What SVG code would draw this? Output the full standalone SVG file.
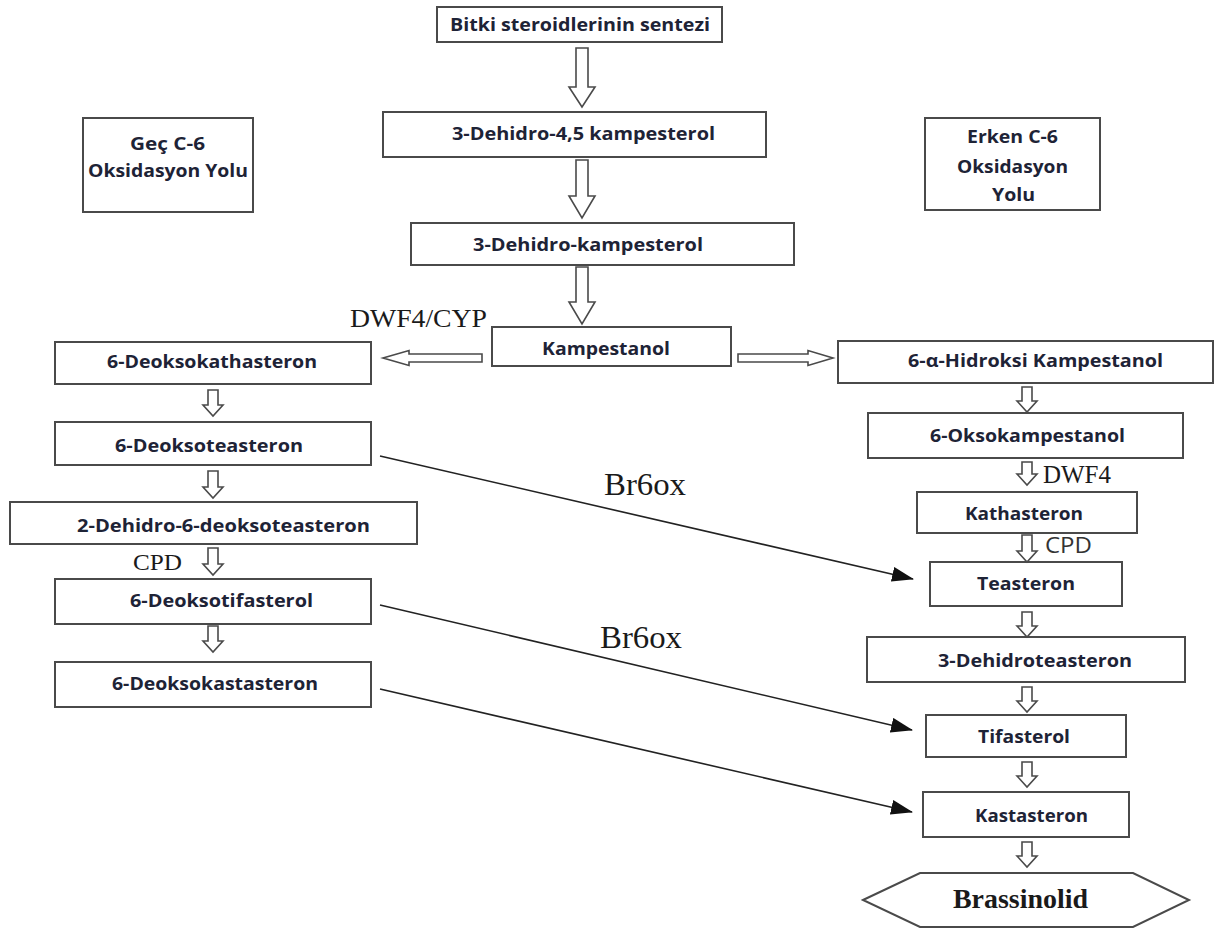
<svg xmlns="http://www.w3.org/2000/svg" width="1218" height="929" viewBox="0 0 1218 929">
<style>
.box{fill:#fff;stroke:#4a4a4a;stroke-width:2}
.t{font-family:"Open Sans","Liberation Sans",sans-serif;font-weight:700;font-size:18px;fill:#1e2336}
.blk{fill:#fff;stroke:#4a4a4a;stroke-width:1.6;stroke-linejoin:miter}
.ser{font-family:"Liberation Serif","Times New Roman",serif;fill:#1a1a1a}
.line{stroke:#222;stroke-width:1.6;fill:none}
</style>
<defs>
<marker id="ah" markerUnits="userSpaceOnUse" markerWidth="22" markerHeight="16" refX="21" refY="7.5" orient="auto">
<path d="M0,0 L22,7.5 L0,15 z" fill="#111"/>
</marker>
</defs>
<rect width="1218" height="929" fill="#fff"/>

<g id="n-bitki"><rect class="box" x="437" y="7" width="285" height="35"/><text class="t" x="450" y="31" textLength="260" lengthAdjust="spacingAndGlyphs">Bitki steroidlerinin sentezi</text></g>
<g id="n-dehidro45"><rect class="box" x="383" y="112" width="383" height="45"/><text class="t" x="452" y="140" textLength="263" lengthAdjust="spacingAndGlyphs">3-Dehidro-4,5 kampesterol</text></g>
<g id="n-dehidrokamp"><rect class="box" x="411" y="223" width="383" height="42"/><text class="t" x="473" y="251" textLength="230" lengthAdjust="spacingAndGlyphs">3-Dehidro-kampesterol</text></g>
<g id="n-kampestanol"><rect class="box" x="492" y="327" width="239" height="39"/><text class="t" x="542" y="355" textLength="128" lengthAdjust="spacingAndGlyphs">Kampestanol</text></g>
<g id="n-gec"><rect class="box" x="83" y="118" width="170" height="94"/><text class="t" x="130" y="150" textLength="75" lengthAdjust="spacingAndGlyphs">Geç C-6</text><text class="t" x="88" y="177" textLength="160" lengthAdjust="spacingAndGlyphs">Oksidasyon Yolu</text></g>
<g id="n-erken"><rect class="box" x="925" y="118" width="175" height="92"/><text class="t" x="967" y="143" textLength="91" lengthAdjust="spacingAndGlyphs">Erken C-6</text><text class="t" x="957" y="173" textLength="111" lengthAdjust="spacingAndGlyphs">Oksidasyon</text><text class="t" x="992" y="201" textLength="43" lengthAdjust="spacingAndGlyphs">Yolu</text></g>

<g id="n-l1"><rect class="box" x="55" y="342" width="316" height="42"/><text class="t" x="107" y="368" textLength="210" lengthAdjust="spacingAndGlyphs">6-Deoksokathasteron</text></g>
<g id="n-l2"><rect class="box" x="55" y="422" width="316" height="43"/><text class="t" x="115" y="452" textLength="188" lengthAdjust="spacingAndGlyphs">6-Deoksoteasteron</text></g>
<g id="n-l3"><rect class="box" x="10" y="502" width="407" height="42"/><text class="t" x="77" y="532" textLength="293" lengthAdjust="spacingAndGlyphs">2-Dehidro-6-deoksoteasteron</text></g>
<g id="n-l4"><rect class="box" x="55" y="579" width="316" height="45"/><text class="t" x="130" y="607" textLength="183" lengthAdjust="spacingAndGlyphs">6-Deoksotifasterol</text></g>
<g id="n-l5"><rect class="box" x="55" y="662" width="316" height="45"/><text class="t" x="112" y="690" textLength="206" lengthAdjust="spacingAndGlyphs">6-Deoksokastasteron</text></g>

<g id="n-r1"><rect class="box" x="838" y="341" width="375" height="42"/><text class="t" x="908" y="367" textLength="255" lengthAdjust="spacingAndGlyphs">6-α-Hidroksi Kampestanol</text></g>
<g id="n-r2"><rect class="box" x="868" y="413" width="315" height="45"/><text class="t" x="930" y="442" textLength="195" lengthAdjust="spacingAndGlyphs">6-Oksokampestanol</text></g>
<g id="n-r3"><rect class="box" x="917" y="492" width="220" height="41"/><text class="t" x="965" y="520" textLength="118" lengthAdjust="spacingAndGlyphs">Kathasteron</text></g>
<g id="n-r4"><rect class="box" x="930" y="562" width="192" height="44"/><text class="t" x="977" y="590" textLength="98" lengthAdjust="spacingAndGlyphs">Teasteron</text></g>
<g id="n-r5"><rect class="box" x="867" y="637" width="318" height="45"/><text class="t" x="938" y="667" textLength="194" lengthAdjust="spacingAndGlyphs">3-Dehidroteasteron</text></g>
<g id="n-r6"><rect class="box" x="926" y="715" width="200" height="42"/><text class="t" x="978" y="743" textLength="92" lengthAdjust="spacingAndGlyphs">Tifasterol</text></g>
<g id="n-r7"><rect class="box" x="923" y="792" width="206" height="45"/><text class="t" x="975" y="822" textLength="113" lengthAdjust="spacingAndGlyphs">Kastasteron</text></g>
<g id="n-brassinolid"><polygon class="box" points="863,900 920,873 1133,873 1189,900 1133,927 920,927"/><text class="ser" x="953" y="908" font-size="27" font-weight="700" textLength="135" lengthAdjust="spacingAndGlyphs">Brassinolid</text></g>

<g id="connectors">
<!-- big hollow arrows -->
<path class="blk" d="M576,48 L588,48 L588,87 L595,87 L582,107 L569,87 L576,87 Z"/>
<path class="blk" d="M576,160 L588,160 L588,196 L595,196 L582,218 L569,196 L576,196 Z"/>
<path class="blk" d="M576,267 L588,267 L588,302 L595,302 L582,324 L569,302 L576,302 Z"/>
<!-- horizontal hollow arrows -->
<path class="blk" d="M482,354 L409,354 L409,350.5 L383,358 L409,365.5 L409,362 L482,362 Z"/>
<path class="blk" d="M738,354 L808,354 L808,350.5 L833,358 L808,365.5 L808,362 L738,362 Z"/>
<!-- small hollow arrows left -->
<path class="blk" d="M208,390 L218,390 L218,405 L223,405 L213,416 L203,405 L208,405 Z"/>
<path class="blk" d="M208,471 L218,471 L218,487 L223,487 L213,498 L203,487 L208,487 Z"/>
<path class="blk" d="M208,548 L218,548 L218,564 L223,564 L213,575 L203,564 L208,564 Z"/>
<path class="blk" d="M208,626 L218,626 L218,641 L223,641 L213,652 L203,641 L208,641 Z"/>
<!-- small hollow arrows right -->
<path class="blk" d="M1022,387 L1032,387 L1032,401 L1037,401 L1027,412 L1017,401 L1022,401 Z"/>
<path class="blk" d="M1022,462 L1032,462 L1032,474 L1037,474 L1027,485 L1017,474 L1022,474 Z"/>
<path class="blk" d="M1022,535 L1032,535 L1032,551 L1037,551 L1027,562 L1017,551 L1022,551 Z"/>
<path class="blk" d="M1022,612 L1032,612 L1032,626 L1037,626 L1027,637 L1017,626 L1022,626 Z"/>
<path class="blk" d="M1022,687 L1032,687 L1032,701 L1037,701 L1027,712 L1017,701 L1022,701 Z"/>
<path class="blk" d="M1022,762 L1032,762 L1032,776 L1037,776 L1027,787 L1017,776 L1022,776 Z"/>
<path class="blk" d="M1022,842 L1032,842 L1032,856 L1037,856 L1027,867 L1017,856 L1022,856 Z"/>
<!-- diagonal Br6ox arrows -->
<line class="line" x1="380" y1="456" x2="913" y2="579" marker-end="url(#ah)"/>
<line class="line" x1="380" y1="605" x2="912" y2="730" marker-end="url(#ah)"/>
<line class="line" x1="380" y1="689" x2="912" y2="812" marker-end="url(#ah)"/>
</g>

<g id="labels">
<text class="ser" x="350" y="327" font-size="26" textLength="137" lengthAdjust="spacingAndGlyphs">DWF4/CYP</text>
<text class="ser" x="133" y="570" font-size="23" textLength="49" lengthAdjust="spacingAndGlyphs">CPD</text>
<text class="ser" x="1043" y="483" font-size="25" textLength="68" lengthAdjust="spacingAndGlyphs">DWF4</text>
<text x="1045" y="553" font-family="'Open Sans','Liberation Sans',sans-serif" font-size="21" fill="#333" textLength="47" lengthAdjust="spacingAndGlyphs">CPD</text>
<text class="ser" x="604" y="495" font-size="32" textLength="82" lengthAdjust="spacingAndGlyphs">Br6ox</text>
<text class="ser" x="600" y="648" font-size="32" textLength="82" lengthAdjust="spacingAndGlyphs">Br6ox</text>
</g>
</svg>
